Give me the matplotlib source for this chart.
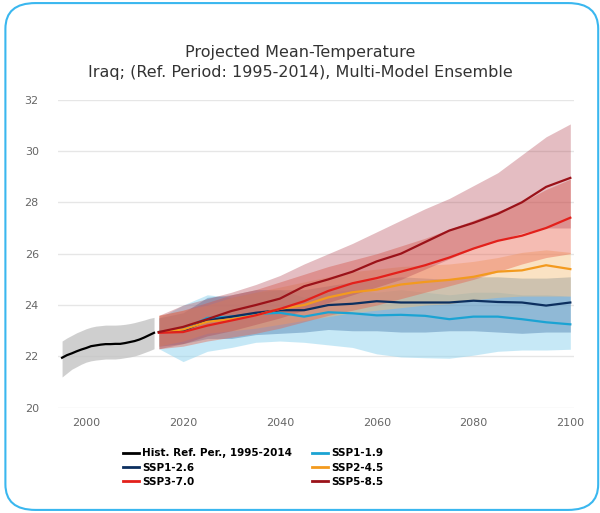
import numpy as np
import matplotlib
matplotlib.use("Agg")
import matplotlib.pyplot as plt
from matplotlib.patches import FancyBboxPatch

# historical reference period
hist_years = list(range(1995, 2015))
hist_mean = [21.95, 22.05, 22.12, 22.2, 22.27, 22.33, 22.4, 22.43, 22.46, 22.48,
             22.48, 22.49, 22.49, 22.52, 22.56, 22.6, 22.66, 22.74, 22.83, 22.92]
hist_low = [21.2, 21.35, 21.5, 21.6, 21.7, 21.78, 21.83, 21.86, 21.88, 21.9,
            21.9, 21.9, 21.92, 21.95, 21.98, 22.02, 22.08, 22.15, 22.22, 22.3]
hist_high = [22.6, 22.72, 22.82, 22.92, 23.0, 23.08, 23.14, 23.18, 23.2, 23.22,
             23.22, 23.22, 23.23, 23.25, 23.28, 23.32, 23.37, 23.42, 23.48, 23.52]

# projections, every 5 years
proj_years = list(range(2015, 2101, 5))

ssp119_mean = [22.95, 23.05, 23.5, 23.55, 23.65, 23.7, 23.55, 23.72, 23.68, 23.6,
               23.62, 23.58, 23.45, 23.55, 23.55, 23.45, 23.33, 23.25]
ssp119_low = [22.3, 21.8, 22.2, 22.35, 22.55, 22.6, 22.55, 22.45, 22.35, 22.1,
              21.98, 21.95, 21.93, 22.05, 22.2, 22.25, 22.25, 22.28]
ssp119_high = [23.5, 24.0, 24.4, 24.3, 24.5, 24.6, 24.3, 24.5, 24.6, 24.5,
               24.6, 24.5, 24.4, 24.5, 24.5, 24.4, 24.4, 24.35]

ssp126_mean = [22.95, 23.0, 23.4, 23.55, 23.7, 23.8, 23.8, 24.0, 24.05, 24.15,
               24.1, 24.1, 24.1, 24.17, 24.12, 24.1, 23.98, 24.1]
ssp126_low = [22.4, 22.5, 22.7, 22.7, 22.85, 22.9, 22.95, 23.05, 23.0, 23.0,
              22.95, 22.95, 23.0, 23.0, 22.95, 22.9, 22.95, 22.95]
ssp126_high = [23.5, 23.7, 24.3, 24.4, 24.6, 24.6, 24.6, 24.75, 24.9, 25.0,
               25.1, 25.05, 25.0, 25.1, 25.1, 25.05, 25.05, 25.1]

ssp245_mean = [22.95, 23.05, 23.35, 23.45, 23.6, 23.85, 24.0, 24.3, 24.5, 24.6,
               24.8, 24.9, 24.98, 25.1, 25.3, 25.35, 25.55, 25.4]
ssp245_low = [22.4, 22.6, 22.9, 23.0, 23.1, 23.25, 23.4, 23.55, 23.7, 23.8,
              23.9, 24.0, 24.05, 24.2, 24.3, 24.35, 24.35, 24.35]
ssp245_high = [23.6, 23.8, 24.0, 24.3, 24.5, 24.7, 24.9, 25.1, 25.3, 25.4,
               25.5, 25.55, 25.6, 25.7, 25.85, 26.05, 26.15, 26.05]

ssp370_mean = [22.92, 22.95, 23.2, 23.4, 23.6, 23.85, 24.15, 24.55, 24.85, 25.05,
               25.3, 25.55, 25.85, 26.2, 26.5, 26.7, 27.0, 27.4]
ssp370_low = [22.3, 22.4, 22.6, 22.75, 22.9, 23.1, 23.35, 23.6, 23.8, 24.0,
              24.25, 24.5, 24.75, 25.0, 25.3, 25.6, 25.85, 26.0]
ssp370_high = [23.6, 23.8, 24.1, 24.4, 24.6, 24.9, 25.2, 25.5, 25.75, 26.0,
               26.3, 26.6, 26.95, 27.3, 27.65, 28.0, 28.5, 28.9]

ssp585_mean = [22.95, 23.15, 23.45, 23.77, 24.0, 24.25, 24.73, 25.0, 25.3, 25.7,
               26.0, 26.45, 26.9, 27.2, 27.55, 28.0, 28.6, 28.95]
ssp585_low = [22.3, 22.5, 22.8, 23.0, 23.25, 23.5, 23.8, 24.1, 24.4, 24.7,
              25.0, 25.4, 25.8, 26.2, 26.5, 26.8, 27.0, 27.0]
ssp585_high = [23.6, 24.0, 24.25, 24.5, 24.8, 25.15, 25.6, 26.0, 26.4, 26.85,
               27.3, 27.75, 28.15, 28.65, 29.15, 29.85, 30.55, 31.05]

scenarios = [
    ("SSP1-1.9", ssp119_mean, ssp119_low, ssp119_high, "#1ba3d3", "#8fd3ee", 0.5),
    ("SSP1-2.6", ssp126_mean, ssp126_low, ssp126_high, "#0c2f5f", "#4f80b0", 0.45),
    ("SSP2-4.5", ssp245_mean, ssp245_low, ssp245_high, "#f39a1e", "#f5c07a", 0.45),
    ("SSP3-7.0", ssp370_mean, ssp370_low, ssp370_high, "#e3201b", "#e8604a", 0.42),
    ("SSP5-8.5", ssp585_mean, ssp585_low, ssp585_high, "#9b1219", "#b0404d", 0.34),
]

fig = plt.figure(figsize=(6.0, 5.13), dpi=100)
ax = fig.add_axes([0.097, 0.205, 0.86, 0.601])

ax.fill_between(hist_years, hist_low, hist_high, color="#c4c4c4", alpha=0.8, lw=0)
for name, mean, low, high, lc, bc, a in scenarios:
    ax.fill_between(proj_years, low, high, color=bc, alpha=a, lw=0)

lines = {}
lines["hist"], = ax.plot(hist_years, hist_mean, color="black", lw=1.6)
for name, mean, low, high, lc, bc, a in scenarios:
    lines[name], = ax.plot(proj_years, mean, color=lc, lw=1.6)

ax.set_xlim(1994.2, 2100.8)
ax.set_ylim(20, 32)
ax.set_yticks(range(20, 33, 2))
ax.set_xticks(range(2000, 2101, 20))
ax.grid(axis="y", color="#e6e6e6", lw=1)
ax.set_axisbelow(True)
for s in ax.spines.values():
    s.set_visible(False)
ax.tick_params(length=0, labelsize=8, labelcolor="#666666")
ax.tick_params(axis="y", pad=14)
ax.tick_params(axis="x", pad=7)

fig.text(0.5, 0.898, "Projected Mean-Temperature", ha="center", va="center",
         fontsize=11.5, color="#333333")
fig.text(0.5, 0.858, "Iraq; (Ref. Period: 1995-2014), Multi-Model Ensemble",
         ha="center", va="center", fontsize=11.5, color="#333333")

handles = [lines["hist"], lines["SSP1-2.6"], lines["SSP3-7.0"],
           lines["SSP1-1.9"], lines["SSP2-4.5"], lines["SSP5-8.5"]]
labels = ["Hist. Ref. Per., 1995-2014", "SSP1-2.6", "SSP3-7.0",
          "SSP1-1.9", "SSP2-4.5", "SSP5-8.5"]
leg = fig.legend(handles, labels, ncol=2, loc="upper left",
                 bbox_to_anchor=(0.205, 0.126), frameon=False,
                 prop={"weight": "bold", "size": 7.5}, handlelength=1.5,
                 handletextpad=0.35, columnspacing=1.9, labelspacing=0.42,
                 borderaxespad=0, borderpad=0)
for h in leg.legend_handles:
    h.set_linewidth(2)

border = FancyBboxPatch((0.009, 0.006), 0.988, 0.988,
                        boxstyle="round,pad=0,rounding_size=0.05",
                        transform=fig.transFigure, fill=False,
                        edgecolor="#3ab7ef", lw=1.5, clip_on=False)
fig.patches.append(border)

fig.savefig("out.png", dpi=100)
